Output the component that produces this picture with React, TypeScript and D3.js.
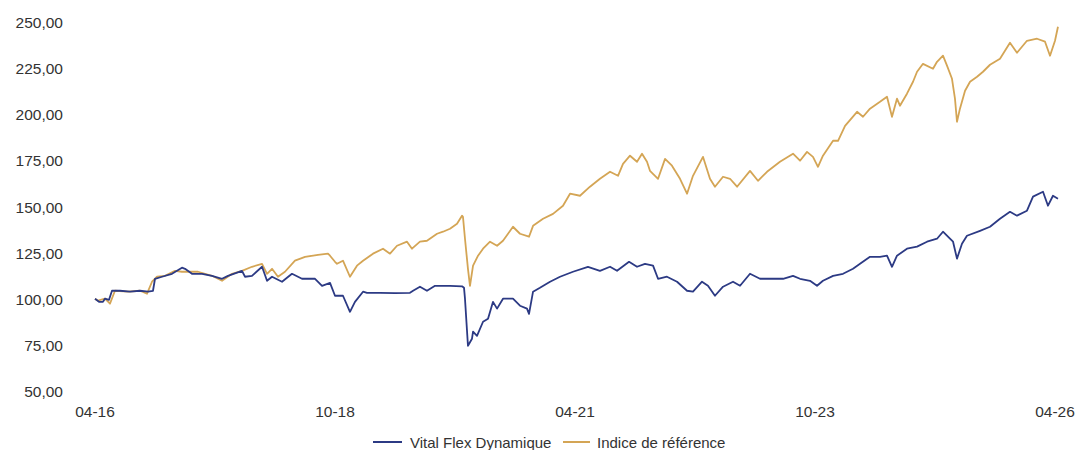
import React from "react";
import * as d3 from "d3";

// Decimal-year dates and values
const fundDates = [
  2016.25, 2016.292, 2016.333, 2016.354, 2016.396, 2016.427, 2016.51, 2016.615, 2016.719, 2016.802, 2016.854,
  2016.875, 2016.948, 2017.052, 2017.156, 2017.188, 2017.26, 2017.365, 2017.469, 2017.573, 2017.635, 2017.781,
  2017.813, 2017.885, 2017.99, 2018.042, 2018.094, 2018.198, 2018.302, 2018.406, 2018.542, 2018.615, 2018.698,
  2018.75, 2018.833, 2018.906, 2018.958, 2019.042, 2019.083, 2019.219, 2019.375, 2019.531, 2019.563, 2019.635,
  2019.708, 2019.792, 2019.948, 2020.073, 2020.094, 2020.104, 2020.135, 2020.177, 2020.188, 2020.229, 2020.292,
  2020.344, 2020.396, 2020.438, 2020.5, 2020.604, 2020.677, 2020.75, 2020.771, 2020.813, 2020.885, 2020.99,
  2021.094, 2021.229, 2021.385, 2021.51, 2021.615, 2021.688, 2021.813, 2021.896, 2021.979, 2022.063, 2022.115,
  2022.208, 2022.313, 2022.417, 2022.479, 2022.573, 2022.635, 2022.708, 2022.792, 2022.896, 2022.969, 2023.073,
  2023.177, 2023.313, 2023.417, 2023.521, 2023.594, 2023.698, 2023.771, 2023.833, 2023.938, 2024.042, 2024.146,
  2024.219, 2024.323, 2024.427, 2024.5, 2024.552, 2024.604, 2024.708, 2024.813, 2024.917, 2025.021, 2025.083,
  2025.156, 2025.188, 2025.229, 2025.281, 2025.333, 2025.469, 2025.573, 2025.677, 2025.781, 2025.854, 2025.958,
  2026.021, 2026.125, 2026.177, 2026.229, 2026.281,
];
const fundValues = [
  100.3, 98.6, 98.6, 100.3, 99.7, 104.6, 104.6, 104.1, 104.6, 104.1, 104.6,
  111.1, 112.2, 113.8, 117.1, 116.5, 113.8, 113.8, 112.7, 111.1, 112.7, 115.4,
  112.2, 112.7, 117.6, 110.0, 112.2, 109.5, 113.8, 111.1, 111.1, 107.3, 108.9,
  101.9, 101.9, 93.2, 98.6, 104.1, 103.5, 103.5, 103.3, 103.5, 104.6, 106.8,
  104.6, 107.3, 107.3, 107.0, 106.2, 100.3, 74.8, 78.6, 82.4, 80.2, 87.8,
  89.4, 98.6, 94.9, 100.3, 100.3, 96.5, 94.9, 92.1, 104.1, 106.2, 109.5,
  112.2, 114.9, 117.6, 115.4, 117.6, 115.4, 120.3, 117.6, 119.2, 118.2, 111.1,
  112.2, 109.5, 104.6, 104.1, 109.5, 107.3, 101.9, 106.8, 109.5, 107.3, 113.8,
  111.1, 111.1, 111.1, 112.7, 111.1, 110.0, 107.3, 110.0, 112.7, 113.8, 116.5,
  119.2, 123.0, 123.0, 123.6, 117.6, 123.6, 127.4, 128.5, 131.2, 132.8, 136.6,
  132.8, 131.2, 122.0, 130.1, 134.4, 137.1, 139.3, 143.6, 147.4, 145.3, 148.0,
  155.6, 158.3, 150.7, 156.1, 154.5,
];

const benchDates = [
  2016.25, 2016.281, 2016.354, 2016.406, 2016.458, 2016.594, 2016.719, 2016.792, 2016.844, 2016.896, 2016.979,
  2017.083, 2017.156, 2017.219, 2017.323, 2017.469, 2017.573, 2017.677, 2017.781, 2017.885, 2017.99, 2018.042,
  2018.094, 2018.156, 2018.229, 2018.333, 2018.438, 2018.573, 2018.677, 2018.698, 2018.75, 2018.771, 2018.833,
  2018.906, 2018.979, 2019.042, 2019.146, 2019.25, 2019.323, 2019.396, 2019.5, 2019.552, 2019.635, 2019.708,
  2019.813, 2019.875, 2019.948, 2020.021, 2020.073, 2020.083, 2020.104, 2020.135, 2020.156, 2020.188, 2020.24,
  2020.292, 2020.365, 2020.438, 2020.5, 2020.604, 2020.677, 2020.771, 2020.813, 2020.917, 2021.021, 2021.125,
  2021.198, 2021.302, 2021.406, 2021.51, 2021.615, 2021.698, 2021.75, 2021.823, 2021.896, 2021.948, 2022.0,
  2022.031, 2022.115, 2022.188, 2022.26, 2022.344, 2022.417, 2022.479, 2022.583, 2022.656, 2022.708, 2022.792,
  2022.865, 2022.938, 2023.073, 2023.156, 2023.25, 2023.385, 2023.521, 2023.594, 2023.667, 2023.729, 2023.781,
  2023.833, 2023.938, 2023.99, 2024.063, 2024.188, 2024.25, 2024.323, 2024.427, 2024.5, 2024.552, 2024.604,
  2024.635, 2024.708, 2024.771, 2024.813, 2024.875, 2024.979, 2025.021, 2025.083, 2025.125, 2025.177, 2025.208,
  2025.229, 2025.26, 2025.313, 2025.365, 2025.438, 2025.5, 2025.573, 2025.677, 2025.781, 2025.854, 2025.958,
  2026.063, 2026.146, 2026.198, 2026.25, 2026.281,
];
const benchValues = [
  100.3, 99.2, 100.3, 97.6, 104.6, 104.1, 104.6, 103.0, 109.5, 112.2, 112.7,
  115.4, 114.9, 114.9, 114.9, 112.7, 110.0, 113.8, 115.4, 117.6, 119.2, 113.8,
  116.5, 112.2, 114.9, 120.9, 123.0, 124.1, 124.7, 123.6, 120.3, 119.2, 120.9,
  112.2, 118.2, 120.9, 124.7, 127.4, 124.7, 129.0, 131.2, 127.4, 131.2, 131.7,
  135.5, 136.6, 138.2, 140.9, 145.3, 144.7, 132.8, 116.5, 107.3, 118.2, 123.6,
  127.4, 131.2, 129.0, 131.7, 139.3, 135.5, 133.9, 139.8, 143.6, 146.3, 150.7,
  157.2, 156.1, 161.0, 165.3, 169.1, 166.9, 173.4, 177.8, 174.5, 178.9, 174.5,
  169.6, 165.3, 176.1, 172.4, 165.3, 157.2, 166.9, 177.2, 165.3, 161.0, 166.4,
  165.3, 161.0, 169.6, 164.2, 169.1, 174.5, 178.9, 175.1, 179.9, 177.2, 171.8,
  177.8, 185.9, 185.9, 194.0, 201.6, 198.9, 203.3, 207.0, 209.8, 198.9, 208.7,
  204.9, 211.4, 217.9, 223.3, 227.6, 224.9, 228.7, 232.0, 226.6, 219.5, 208.7,
  196.2, 203.3, 213.0, 217.9, 220.6, 223.3, 227.1, 230.4, 239.0, 233.6, 240.1,
  241.2, 239.6, 232.0, 240.1, 247.7,
];

const yTicks = [50, 75, 100, 125, 150, 175, 200, 225, 250];
const xTickDates = [2016.25, 2018.75, 2021.25, 2023.75, 2026.25];
const xTickLabels = ["04-16", "10-18", "04-21", "10-23", "04-26"];
const seriesNames = ["Vital Flex Dynamique", "Indice de référence"];
const seriesColors = ["#2c3a84", "#d4a555"];

const W = 1080;
const H = 450;

export default function App() {
  const x = d3.scaleLinear().domain([2016.25, 2026.25]).range([95, 1055]);
  const y = d3.scaleLinear().domain([50, 250]).range([391.5, 22.5]);
  const fmt = (v: number) => d3.format(".2f")(v).replace(".", ",");

  const fund = fundDates.map((d, i) => [d, fundValues[i]] as [number, number]);
  const bench = benchDates.map((d, i) => [d, benchValues[i]] as [number, number]);
  const line = d3
    .line<[number, number]>()
    .x((d) => x(d[0]))
    .y((d) => y(d[1]));

  const font = "'Liberation Sans', Arial, sans-serif";

  return (
    <div style={{ position: "absolute", left: 0, top: 0, width: W, height: H, background: "#fff" }}>
      <svg width={W} height={H} style={{ display: "block" }}>
        <rect width={W} height={H} fill="#fff" />
        {yTicks.map((t) => (
          <text
            key={t}
            x={63}
            y={y(t)}
            textAnchor="end"
            dominantBaseline="central"
            fontFamily={font}
            fontSize={15.5}
            fill="#333"
          >
            {fmt(t)}
          </text>
        ))}
        {xTickDates.map((t, i) => (
          <text
            key={t}
            x={x(t)}
            y={411.5}
            textAnchor="middle"
            dominantBaseline="central"
            fontFamily={font}
            fontSize={15.5}
            fill="#333"
          >
            {xTickLabels[i]}
          </text>
        ))}
        <path d={line(bench) || ""} fill="none" stroke={seriesColors[1]} strokeWidth={1.8} strokeLinejoin="round" />
        <path d={line(fund) || ""} fill="none" stroke={seriesColors[0]} strokeWidth={1.8} strokeLinejoin="round" />
        <g>
          <line x1={373} x2={402} y1={442} y2={442} stroke={seriesColors[0]} strokeWidth={2} />
          <text x={410} y={442} dominantBaseline="central" fontFamily={font} fontSize={15} fill="#333">
            {seriesNames[0]}
          </text>
          <line x1={563} x2={590} y1={442} y2={442} stroke={seriesColors[1]} strokeWidth={2} />
          <text x={597} y={442} dominantBaseline="central" fontFamily={font} fontSize={15} fill="#333">
            {seriesNames[1]}
          </text>
        </g>
      </svg>
    </div>
  );
}
